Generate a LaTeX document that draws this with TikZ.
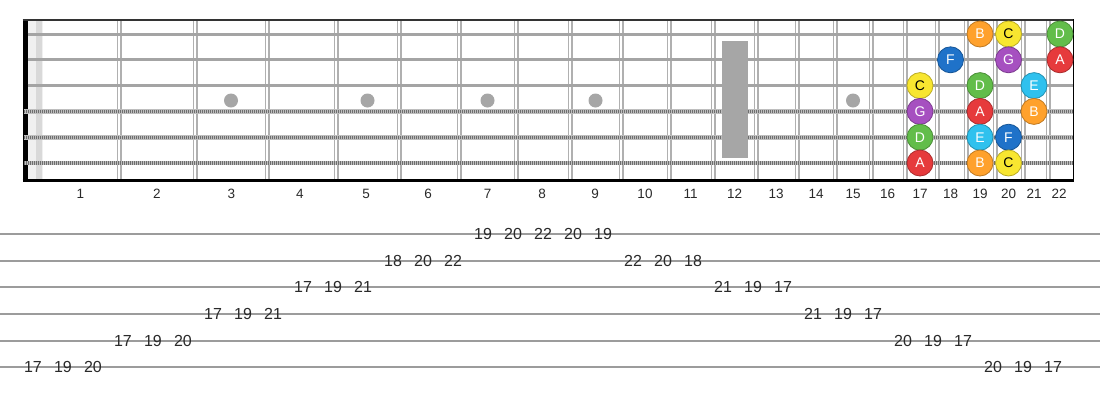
\documentclass[tikz,border=0pt]{standalone}
\usepackage{fontspec}
\setmainfont{Liberation Sans}
\definecolor{noteA}{HTML}{E63A3C}
\definecolor{noteB}{HTML}{FFA12C}
\definecolor{noteC}{HTML}{F8E630}
\definecolor{noteD}{HTML}{62BD4A}
\definecolor{noteE}{HTML}{2FC1EE}
\definecolor{noteF}{HTML}{1F72C9}
\definecolor{noteG}{HTML}{A650C0}
\definecolor{fretgray}{HTML}{B0B0B0}
\definecolor{strgray}{HTML}{A4A4A4}
\definecolor{woundlight}{HTML}{BEBEBE}
\definecolor{wounddark}{HTML}{6E6E6E}
\definecolor{inlay}{HTML}{A6A6A6}
\definecolor{tabgray}{HTML}{9C9C9C}
\definecolor{txt}{HTML}{2A2A2A}
\begin{document}
\begin{tikzpicture}[x=1pt,y=-1pt,
  fretouter/.style={line width=5pt, draw=fretgray},
  fretinner/.style={line width=1.6pt, draw=white},
  plainstring/.style={line width=3pt, draw=strgray},
  woundbase/.style={line width=4.6pt, draw=woundlight},
  woundtop/.style={line width=3.4pt, draw=wounddark, dash pattern=on 1pt off 1pt},
  tabline/.style={line width=2pt, draw=tabgray},
  fretnum/.style={font=\fontsize{13.5}{13.5}\selectfont, text=txt, inner sep=0pt, anchor=center},
  tabnum/.style={font=\fontsize{16}{16}\selectfont, text=txt, inner sep=0pt, anchor=center},
  dotinlay/.style={circle, fill=inlay, minimum size=14pt, inner sep=0pt},
  note/.style={circle, minimum size=26pt, inner sep=0pt, fill=#1, draw=#1!75!black, line width=0.8pt, text=white, font=\fontsize{14}{14}\selectfont},
  notedark/.style={note=#1, text=black}
]
\useasboundingbox (0,0) rectangle (1100,400);
\fill[white] (0,0) rectangle (1100,400);

% nut band
\fill[gray!12] (27.5,20) rectangle (43,180);
\fill[gray!30] (36,20) rectangle (42,180);

% frets
\foreach \x in {119,195,267,336,399,459,516,570,621,669,713,756,797,835,871,905,937,966,995,1023,1048} {
  \draw[fretouter] (\x,20) -- (\x,180);
  \draw[fretinner] (\x,20) -- (\x,180);
}

% nut
\fill[black] (22.5,19.5) rectangle (27.5,181);

% borders
\draw[line width=1.8pt, draw=black!80] (22.5,20) -- (1073.5,20);
\draw[line width=2.2pt, draw=black] (22.5,180.5) -- (1074,180.5);
\draw[line width=1.8pt, draw=black] (1073.5,19.2) -- (1073.5,181.5);

% strings
\foreach \y in {34,59.8,85.6} {
  \draw[plainstring] (27.5,\y) -- (1073,\y);
}
\foreach \y in {111.4,137.2,163} {
  \draw[woundbase] (24,\y) -- (1073,\y);
  \draw[woundtop] (24,\y) -- (1073,\y);
}

% inlays
\foreach \x/\n in {231/3,367.5/5,487.5/7,595.5/9,853/15} {
  \node[dotinlay] (dot\n) at (\x,100.5) {};
}
\fill[inlay] (722,41) rectangle (748,158);

% fret numbers
\foreach \x/\n in {80.5/1,157/2,231.5/3,300/4,366/5,428/6,487.5/7,542/8,595/9,645/10,690.5/11,734.5/12,776/13,816/14,853/15,887.5/16,920/17,950.5/18,980/19,1008.5/20,1034/21,1059/22} {
  \node[fretnum] (fn\n) at (\x,194) {\n};
}

% notes on the neck
\node[note=noteB] (n1b) at (980,34) {B};
\node[notedark=noteC] (n1c) at (1008.5,34) {C};
\node[note=noteD] (n1d) at (1060,34) {D};
\node[note=noteF] (n2f) at (950.5,59.8) {F};
\node[note=noteG] (n2g) at (1008.5,59.8) {G};
\node[note=noteA] (n2a) at (1060,59.8) {A};
\node[notedark=noteC] (n3c) at (920,85.6) {C};
\node[note=noteD] (n3d) at (980,85.6) {D};
\node[note=noteE] (n3e) at (1034,85.6) {E};
\node[note=noteG] (n4g) at (920,111.4) {G};
\node[note=noteA] (n4a) at (980,111.4) {A};
\node[note=noteB] (n4b) at (1034,111.4) {B};
\node[note=noteD] (n5d) at (920,137.2) {D};
\node[note=noteE] (n5e) at (980,137.2) {E};
\node[note=noteF] (n5f) at (1008.5,137.2) {F};
\node[note=noteA] (n6a) at (920,163) {A};
\node[note=noteB] (n6b) at (980,163) {B};
\node[notedark=noteC] (n6c) at (1008.5,163) {C};

% tab lines
\foreach \s in {1,...,6} {
  \draw[tabline] (0,{234+26.65*(\s-1)}) -- (1100,{234+26.65*(\s-1)});
}

% tab numbers
\foreach \k/\s/\n in {0/6/17,1/6/19,2/6/20,3/5/17,4/5/19,5/5/20,6/4/17,7/4/19,8/4/21,9/3/17,10/3/19,11/3/21,12/2/18,13/2/20,14/2/22,15/1/19,16/1/20,17/1/22,18/1/20,19/1/19,20/2/22,21/2/20,22/2/18,23/3/21,24/3/19,25/3/17,26/4/21,27/4/19,28/4/17,29/5/20,30/5/19,31/5/17,32/6/20,33/6/19,34/6/17} {
  \node[tabnum] (t\k) at ({33+30*\k},{234+26.65*(\s-1)}) {\n};
}
\end{tikzpicture}
\end{document}
